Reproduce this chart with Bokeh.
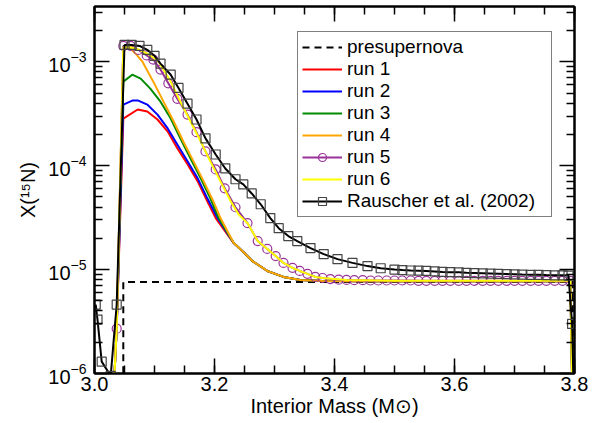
from bokeh.plotting import figure
from bokeh.models import (LinearAxis, LogAxis, PrintfTickFormatter,
                          Legend, LegendItem, FixedTicker, CustomJSTickFormatter)
from bokeh.embed import file_html
from bokeh.resources import INLINE

# ---------------- data ----------------
mass_presn = [3.048, 3.048, 3.797, 3.797]
x_presn = [1e-9, 7.6e-6, 7.6e-6, 1e-9]

mass_run1 = [3.025, 3.037, 3.048, 3.072, 3.088, 3.105, 3.122, 3.138, 3.155, 3.172, 3.188, 3.202,
             3.232, 3.248, 3.263, 3.288, 3.315, 3.343, 3.38, 3.45, 3.55, 3.65, 3.75, 3.793, 3.799]
x_run1 = [1e-7, 2.7e-6, 2.84e-4, 3.47e-4, 3.32e-4, 2.78e-4, 2.13e-4, 1.47e-4, 1.03e-4, 7.06e-5, 4.55e-5, 3.13e-5,
          1.8e-5, 1.48e-5, 1.21e-5, 9.7e-6, 8.5e-6, 7.95e-6, 7.78e-6, 7.7e-6, 7.7e-6, 7.7e-6, 7.7e-6, 7.7e-6, 1e-7]

mass_run2 = [3.025, 3.037, 3.048, 3.063, 3.073, 3.088, 3.105, 3.122, 3.138, 3.155, 3.172, 3.188, 3.205,
             3.232, 3.248, 3.263, 3.288, 3.315, 3.343, 3.38, 3.45, 3.55, 3.65, 3.75, 3.793, 3.799]
x_run2 = [1e-7, 2.7e-6, 3.87e-4, 4.23e-4, 4.23e-4, 3.87e-4, 3.1e-4, 2.28e-4, 1.6e-4, 1.1e-4, 7.55e-5, 4.85e-5, 3.13e-5,
          1.8e-5, 1.48e-5, 1.21e-5, 9.7e-6, 8.5e-6, 7.95e-6, 7.78e-6, 7.7e-6, 7.7e-6, 7.7e-6, 7.7e-6, 7.7e-6, 1e-7]

mass_run3 = [3.025, 3.037, 3.048, 3.063, 3.077, 3.093, 3.11, 3.127, 3.143, 3.16, 3.177, 3.193, 3.207,
             3.232, 3.248, 3.263, 3.288, 3.315, 3.343, 3.38, 3.45, 3.55, 3.65, 3.75, 3.793, 3.799]
x_run3 = [1e-7, 2.7e-6, 6.43e-4, 7.5e-4, 6.87e-4, 5.51e-4, 4.13e-4, 2.84e-4, 1.83e-4, 1.17e-4, 7.55e-5, 4.85e-5, 3.13e-5,
          1.8e-5, 1.48e-5, 1.21e-5, 9.7e-6, 8.5e-6, 7.95e-6, 7.78e-6, 7.7e-6, 7.7e-6, 7.7e-6, 7.7e-6, 7.7e-6, 1e-7]

mass_run4 = [3.025, 3.037, 3.048, 3.06, 3.07, 3.08, 3.098, 3.115, 3.132, 3.148, 3.165, 3.182, 3.198, 3.21,
             3.232, 3.248, 3.263, 3.288, 3.315, 3.343, 3.38, 3.45, 3.55, 3.65, 3.75, 3.793, 3.799]
x_run4 = [1e-7, 2.7e-6, 1.38e-3, 1.33e-3, 1.17e-3, 1.0e-3, 6.43e-4, 4.13e-4, 2.66e-4, 1.71e-4, 1.1e-4, 7.06e-5, 4.55e-5, 3.13e-5,
          1.8e-5, 1.48e-5, 1.21e-5, 9.7e-6, 8.5e-6, 7.95e-6, 7.78e-6, 7.7e-6, 7.7e-6, 7.7e-6, 7.7e-6, 7.7e-6, 1e-7]

mass_run5 = [3.025, 3.037, 3.048, 3.06, 3.073, 3.087, 3.098, 3.11, 3.123, 3.138, 3.155, 3.17, 3.185, 3.202,
             3.217, 3.235, 3.255, 3.272, 3.288, 3.302, 3.315, 3.33, 3.342, 3.355, 3.368, 3.38,
             3.393, 3.407, 3.420, 3.433, 3.447, 3.460, 3.473, 3.487, 3.500, 3.513, 3.527, 3.540, 3.553,
             3.567, 3.580, 3.593, 3.607, 3.620, 3.633, 3.647, 3.660, 3.673, 3.687, 3.700, 3.713, 3.727,
             3.740, 3.753, 3.767, 3.780, 3.793, 3.800]
x_run5 = [1e-7, 2.7e-6, 1.42e-3, 1.42e-3, 1.3e-3, 1.15e-3, 1.05e-3, 8.4e-4, 6.2e-4, 4.4e-4, 3.1e-4, 2.1e-4, 1.37e-4, 9.2e-5,
          6.05e-5, 3.98e-5, 2.8e-5, 1.88e-5, 1.58e-5, 1.35e-5, 1.16e-5, 1.04e-5, 9.7e-6, 9.1e-6, 8.5e-6, 8.3e-6,
          8.1e-6, 8.0e-6, 7.95e-6, 7.9e-6, 7.9e-6, 7.85e-6, 7.85e-6, 7.85e-6, 7.85e-6, 7.85e-6, 7.85e-6, 7.8e-6, 7.8e-6,
          7.8e-6, 7.8e-6, 7.8e-6, 7.8e-6, 7.8e-6, 7.8e-6, 7.8e-6, 7.8e-6, 7.8e-6, 7.8e-6, 7.8e-6, 7.8e-6, 7.8e-6,
          7.8e-6, 7.8e-6, 7.8e-6, 7.8e-6, 7.8e-6, 1e-7]

mass_run6 = [3.025, 3.037, 3.048, 3.06, 3.075, 3.09, 3.107, 3.127, 3.143, 3.16, 3.177, 3.193, 3.21, 3.227, 3.24,
             3.255, 3.272, 3.288, 3.302, 3.315, 3.33, 3.342, 3.355, 3.368, 3.38, 3.42, 3.5, 3.6, 3.7, 3.793, 3.799]
x_run6 = [1e-7, 2.7e-6, 1.38e-3, 1.38e-3, 1.3e-3, 1.18e-3, 1.0e-3, 6.43e-4, 4.13e-4, 2.66e-4, 1.71e-4, 1.1e-4, 7.06e-5, 4.55e-5, 3.4e-5,
          2.8e-5, 1.88e-5, 1.58e-5, 1.35e-5, 1.16e-5, 1.04e-5, 9.7e-6, 9.1e-6, 8.5e-6, 8.3e-6, 7.95e-6, 7.8e-6, 7.8e-6, 7.8e-6, 7.8e-6, 1e-7]

mass_rauscher = [3.002, 3.005, 3.012, 3.027, 3.037, 3.05, 3.062, 3.075, 3.088, 3.1, 3.11, 3.127, 3.14, 3.155, 3.17,
                 3.185, 3.202, 3.218, 3.235, 3.248, 3.262, 3.277, 3.293, 3.307, 3.323, 3.338, 3.36, 3.382, 3.405,
                 3.43, 3.455, 3.477, 3.5, 3.513, 3.527, 3.54, 3.553, 3.567, 3.58, 3.593, 3.607, 3.62, 3.633, 3.647,
                 3.66, 3.673, 3.687, 3.7, 3.713, 3.727, 3.74, 3.753, 3.767, 3.78, 3.79, 3.796, 3.8]
x_rauscher = [4.6e-6, 3.3e-6, 1.3e-6, 9.5e-7, 4.6e-6, 1.45e-3, 1.45e-3, 1.42e-3, 1.3e-3, 1.14e-3, 9.6e-4, 7.5e-4, 5.6e-4, 3.95e-4, 2.78e-4,
              1.83e-4, 1.28e-4, 9.4e-5, 7.4e-5, 6.6e-5, 5.4e-5, 4.25e-5, 3.13e-5, 2.5e-5, 2.1e-5, 1.88e-5, 1.61e-5, 1.41e-5, 1.26e-5,
              1.16e-5, 1.08e-5, 1.03e-5, 1.0e-5, 9.9e-6, 9.8e-6, 9.75e-6, 9.7e-6, 9.6e-6, 9.5e-6, 9.45e-6, 9.4e-6, 9.3e-6, 9.25e-6, 9.2e-6,
              9.15e-6, 9.1e-6, 9.05e-6, 9.0e-6, 8.95e-6, 8.9e-6, 8.9e-6, 8.85e-6, 8.8e-6, 8.8e-6, 8.75e-6, 3e-6, 3e-7]

x_major_ticks = [3.0, 3.2, 3.4, 3.6, 3.8]
y_major_ticks = [1e-6, 1e-5, 1e-4, 1e-3]
y_minor_ticks = [m * 10.0 ** e for e in (-6, -5, -4, -3) for m in range(2, 10) if m * 10.0 ** e < 3.4e-3]

FONT = "Liberation Sans"

# ---------------- figure ----------------
p = figure(width=604, height=423, x_range=(3.0, 3.8), y_range=(1e-6, 3.4e-3), y_axis_type="log",
           output_backend="svg", toolbar_location=None,
           min_border_left=94, min_border_right=30, min_border_top=6, min_border_bottom=50)
p.grid.visible = False
p.outline_line_color = "black"
p.outline_line_width = 2
p.background_fill_color = "white"
p.border_fill_color = "white"


def style_axis(ax):
    ax.major_tick_in = 15
    ax.major_tick_out = 0
    ax.minor_tick_in = 8
    ax.minor_tick_out = 0
    ax.major_tick_line_width = 1.5
    ax.minor_tick_line_width = 1.5
    ax.major_tick_line_color = "black"
    ax.minor_tick_line_color = "black"
    ax.axis_line_width = 2
    ax.axis_line_color = "black"
    ax.major_label_text_font = FONT
    ax.major_label_text_font_size = "20px"
    ax.major_label_text_color = "black"
    ax.axis_label_text_font = FONT
    ax.axis_label_text_font_size = "20px"
    ax.axis_label_text_font_style = "normal"
    ax.axis_label_text_color = "black"


xt = FixedTicker(ticks=x_major_ticks, minor_ticks=[3.0 + 0.05 * i for i in range(17)])
yt = FixedTicker(ticks=y_major_ticks, minor_ticks=y_minor_ticks)

xa = p.xaxis[0]
xa.ticker = xt
xa.formatter = PrintfTickFormatter(format="%.1f")
xa.axis_label = "Interior Mass (M\u2299)"
xa.major_label_standoff = 3
xa.axis_label_standoff = 1
style_axis(xa)

ya = p.yaxis[0]
ya.ticker = yt
ya.axis_label = "X(\u00b9\u2075N)"
ya.major_label_standoff = 8
ya.axis_label_standoff = 6
style_axis(ya)

top = LinearAxis(ticker=xt, formatter=CustomJSTickFormatter(code="return ''"), major_label_standoff=0)
style_axis(top)
p.add_layout(top, "above")
right = LogAxis(ticker=yt, formatter=CustomJSTickFormatter(code="return ''"), major_label_standoff=0)
style_axis(right)
p.add_layout(right, "right")

# ---------------- series ----------------
r_pre = p.line(mass_presn, x_presn, line_color="black", line_width=2, line_dash="7 5")
r1 = p.line(mass_run1, x_run1, line_color="#ff0000", line_width=2)
r2 = p.line(mass_run2, x_run2, line_color="#0000ff", line_width=2)
r3 = p.line(mass_run3, x_run3, line_color="#008b00", line_width=2)
r4 = p.line(mass_run4, x_run4, line_color="#ffa500", line_width=2)
r5l = p.line(mass_run5, x_run5, line_color="#993399", line_width=2)
r5s = p.scatter(mass_run5, x_run5, marker="circle", size=9, fill_color=None, line_color="#993399", line_width=1.2)
r6 = p.line(mass_run6, x_run6, line_color="#ffff00", line_width=2)
rrl = p.line(mass_rauscher, x_rauscher, line_color="black", line_width=2)
rrs = p.scatter(mass_rauscher, x_rauscher, marker="square", size=9, fill_color=None, line_color="#444444", line_width=1.2)

legend = Legend(items=[
    LegendItem(label="presupernova", renderers=[r_pre]),
    LegendItem(label="run 1", renderers=[r1]),
    LegendItem(label="run 2", renderers=[r2]),
    LegendItem(label="run 3", renderers=[r3]),
    LegendItem(label="run 4", renderers=[r4]),
    LegendItem(label="run 5", renderers=[r5l, r5s]),
    LegendItem(label="run 6", renderers=[r6]),
    LegendItem(label="Rauscher et al. (2002)", renderers=[rrl, rrs]),
], location=(203, 156))
legend.label_text_font = FONT
legend.label_text_font_size = "19px"
legend.label_text_color = "black"
legend.glyph_width = 40
legend.glyph_height = 20
legend.label_height = 20
legend.label_width = 200
legend.label_standoff = 5
legend.spacing = 0
legend.padding = 4
legend.margin = 0
legend.border_line_color = "black"
legend.border_line_width = 1
legend.background_fill_color = "white"
legend.background_fill_alpha = 1.0
p.add_layout(legend)

open("out.html", "w").write(file_html(p, INLINE))
